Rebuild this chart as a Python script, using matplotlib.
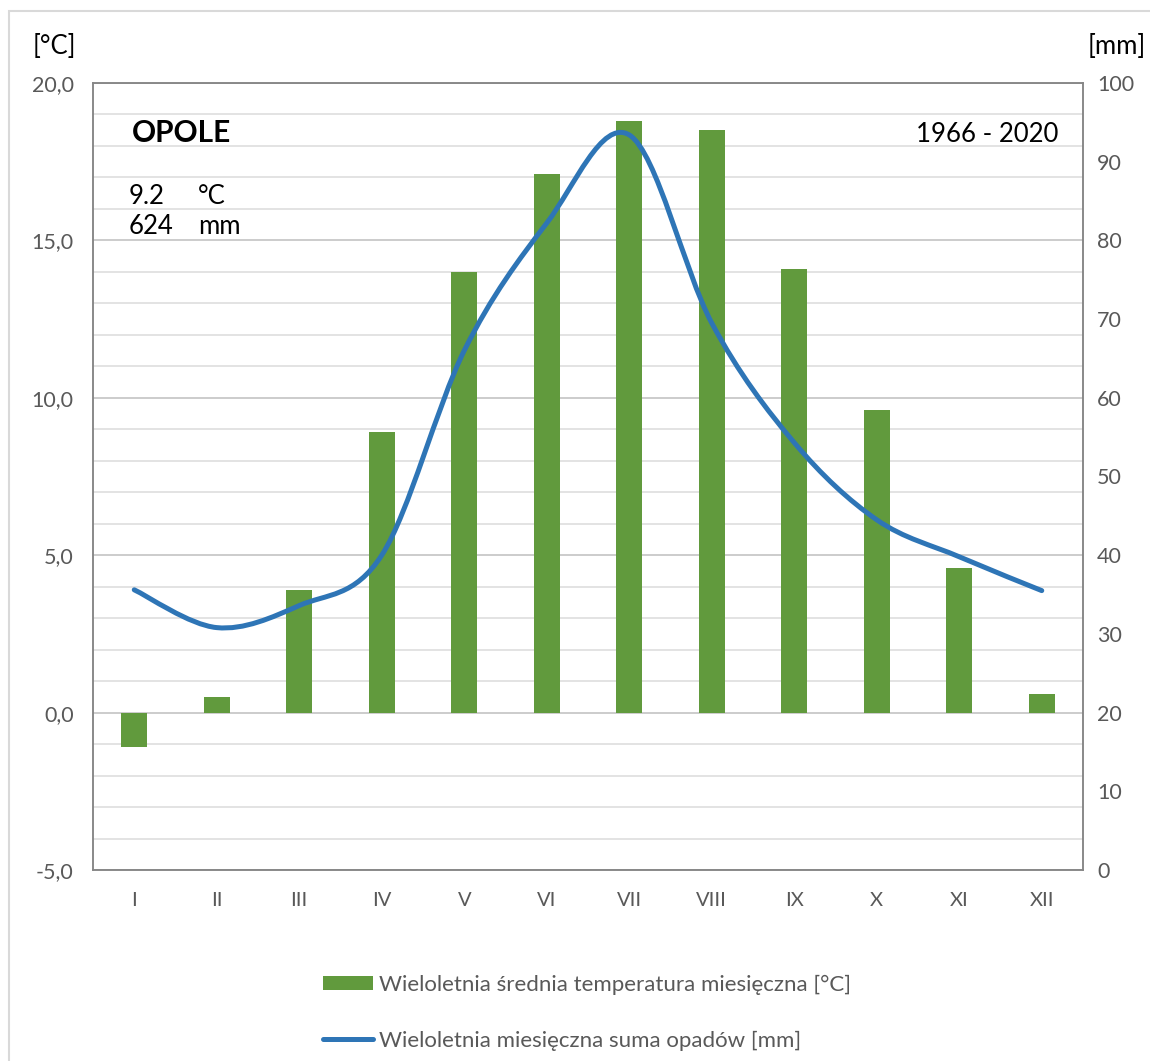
import numpy as np
import matplotlib
matplotlib.use('Agg')
import matplotlib.pyplot as plt
from matplotlib.path import Path
from matplotlib.patches import PathPatch, Rectangle
from matplotlib.lines import Line2D
from matplotlib.ticker import MultipleLocator

plt.rcParams['font.family'] = ['Lato', 'DejaVu Sans']

months = ['I', 'II', 'III', 'IV', 'V', 'VI', 'VII', 'VIII', 'IX', 'X', 'XI', 'XII']
temp = [-1.1, 0.5, 3.9, 8.9, 14.0, 17.1, 18.8, 18.5, 14.1, 9.6, 4.6, 0.6]
precip = [35.6, 30.8, 33.6, 40.0, 66.0, 82.2, 93.4, 69.5, 54.3, 44.5, 39.8, 35.5]
station = 'OPOLE'
period = '1966 - 2020'
mean_temp = '9.2'
sum_precip = '624'

GREEN = '#619A3D'
BLUE = '#2E75B6'
GRAY = '#595959'

W, H = 1150, 1061
fig = plt.figure(figsize=(W / 100, H / 100), dpi=100)

# outer chart border (cut at right/bottom)
fig.patches.append(Rectangle((9 / W, -0.1), 1.2, 1 - 11 / H + 0.1, transform=fig.transFigure,
                             fill=False, edgecolor='#d9d9d9', lw=1.5))

ax = fig.add_axes([93 / W, 1 - 870 / H, (1083 - 93) / W, (870 - 83) / H])
x = np.arange(len(months))
bars = ax.bar(x, temp, width=0.32, color=GREEN, zorder=2)
ax.set_xlim(-0.5, len(months) - 0.5)
ax.set_ylim(-5, 20)
ax.yaxis.set_major_locator(MultipleLocator(5))
ax.yaxis.set_minor_locator(MultipleLocator(1))
ax.yaxis.set_major_formatter(lambda v, p: f'{v:.1f}'.replace('.', ','))
ax.grid(axis='y', which='minor', color='#dedede', lw=1.2, zorder=0)
ax.grid(axis='y', which='major', color='#c4c4c4', lw=1.2, zorder=0)
ax.set_axisbelow(True)
ax.set_xticks(x)
ax.set_xticklabels(months)
ax.tick_params(axis='both', which='both', length=0, labelsize=15.5, labelcolor=GRAY)
ax.tick_params(axis='y', pad=14)
ax.tick_params(axis='x', pad=16, labelsize=14.5)
for s in ax.spines.values():
    s.set_color('#868686')
    s.set_linewidth(1.1)

ax2 = ax.twinx()
ax2.set_ylim(0, 100)
ax2.yaxis.set_major_locator(MultipleLocator(10))
ax2.tick_params(axis='y', length=0, labelsize=15.5, labelcolor=GRAY, pad=10)
for s in ax2.spines.values():
    s.set_color('#868686')
    s.set_linewidth(1.1)

# smoothed line (Excel-style Bezier through the monthly points)
pts = np.column_stack([x, precip]).astype(float)
ext = np.vstack([pts[0], pts, pts[-1]])
verts = [tuple(pts[0])]
codes = [Path.MOVETO]
for i in range(len(pts) - 1):
    p0, p1, p2, p3 = ext[i], ext[i + 1], ext[i + 2], ext[i + 3]
    c1 = p1 + (p2 - p0) / 6
    c2 = p2 - (p3 - p1) / 6
    verts += [tuple(c1), tuple(c2), tuple(p2)]
    codes += [Path.CURVE4] * 3
ax2.add_patch(PathPatch(Path(verts, codes), fill=False, edgecolor=BLUE, lw=3.6,
                        capstyle='round', joinstyle='round', zorder=3))

# texts
fig.text(33 / W, 1 - 46 / H, '[°C]', fontsize=18.5, va='center', ha='left')
fig.text(1146 / W, 1 - 46 / H, '[mm]', fontsize=18.5, va='center', ha='right')
fig.text(132 / W, 1 - 133 / H, station, fontsize=21.5, fontweight='bold', va='center', ha='left')
fig.text(129 / W, 1 - 197 / H, mean_temp, fontsize=18.5, va='center', ha='left')
fig.text(198 / W, 1 - 197 / H, '°C', fontsize=18.5, va='center', ha='left')
fig.text(129 / W, 1 - 227 / H, sum_precip, fontsize=18.5, va='center', ha='left')
fig.text(198 / W, 1 - 227 / H, 'mm', fontsize=18.5, va='center', ha='left')
fig.text(1058 / W, 1 - 134 / H, period, fontsize=18.5, va='center', ha='right')

handles = [bars, Line2D([], [], color=BLUE, lw=3.6, solid_capstyle='round')]
labels = ['Wieloletnia średnia temperatura miesięczna [°C]',
          'Wieloletnia miesięczna suma opadów [mm]']
fig.legend(handles, labels, loc='upper left', bbox_to_anchor=(323 / W, 1 - 975 / H),
           frameon=False, fontsize=16, labelcolor=GRAY, handlelength=2.25,
           handleheight=0.57, handletextpad=0.28, labelspacing=1.6,
           borderpad=0, borderaxespad=0)

fig.savefig('out.png', dpi=100)
